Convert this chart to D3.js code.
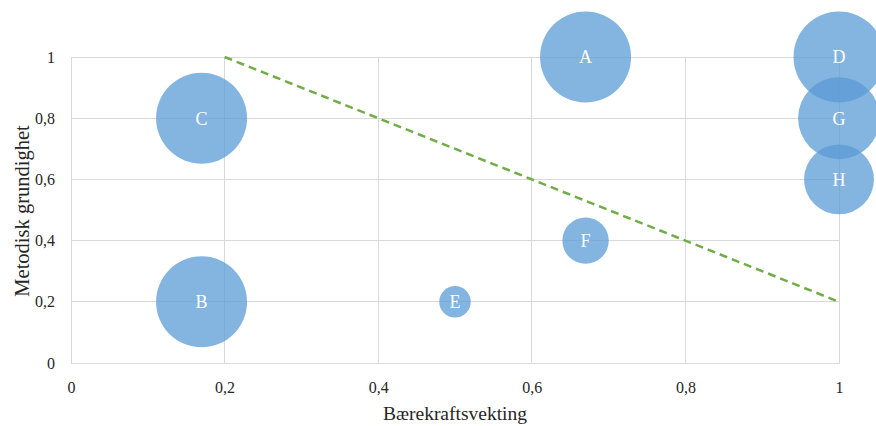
<!DOCTYPE html>
<html>
<head>
<meta charset="utf-8">
<script src="https://cdn.jsdelivr.net/npm/d3@7"></script>
<style>
  html, body { margin: 0; padding: 0; background: #fff; }
  svg { display: block; }
  text { font-family: "Liberation Serif", "DejaVu Serif", serif; }
</style>
</head>
<body>
<svg id="chart" width="876" height="426"></svg>
<script>
// Prosjekter: bærekraftsvekting (x), metodisk grundighet (y), boblestørrelse
const labels = ["A", "B", "C", "D", "E", "F", "G", "H"];
const xValues = [0.67, 0.17, 0.17, 1.0, 0.5, 0.67, 1.0, 1.0];
const yValues = [1.0, 0.2, 0.8, 1.0, 0.2, 0.4, 0.8, 0.6];
const sizes = [1.0, 1.0, 1.0, 1.0, 0.12, 0.26, 0.81, 0.59];

// Skillelinje (stiplet)
const lineX = [0.2, 1.0];
const lineY = [1.0, 0.2];

const xTicks = [0, 0.2, 0.4, 0.6, 0.8, 1];
const yTicks = [0, 0.2, 0.4, 0.6, 0.8, 1];
const fmt = v => String(v).replace(".", ",");

const svg = d3.select("#chart");
const x = d3.scaleLinear().domain([0, 1]).range([71, 839]);
const y = d3.scaleLinear().domain([0, 1]).range([363, 57]);
const r = d3.scaleSqrt().domain([0, 1]).range([0, 45.5]);

// Rutenett
svg.append("g").selectAll("line").data(xTicks).join("line")
  .attr("x1", d => x(d)).attr("x2", d => x(d))
  .attr("y1", y(0)).attr("y2", y(1))
  .attr("stroke", "#d9d9d9").attr("stroke-width", 1).attr("shape-rendering", "crispEdges");
svg.append("g").selectAll("line").data(yTicks).join("line")
  .attr("x1", x(0)).attr("x2", x(1))
  .attr("y1", d => y(d)).attr("y2", d => y(d))
  .attr("stroke", "#d9d9d9").attr("stroke-width", 1).attr("shape-rendering", "crispEdges");

// Akser
const xAxis = d3.axisBottom(x).tickValues(xTicks).tickFormat(fmt).tickSize(0).tickPadding(19);
const yAxis = d3.axisLeft(y).tickValues(yTicks).tickFormat(fmt).tickSize(0).tickPadding(16);
const gx = svg.append("g").attr("transform", `translate(0,${y(0)})`).call(xAxis);
const gy = svg.append("g").attr("transform", `translate(${x(0)},0)`).call(yAxis);
[gx, gy].forEach(g => {
  g.select(".domain").attr("stroke", "#d9d9d9").attr("shape-rendering", "crispEdges");
  g.selectAll("text").attr("font-size", 16).attr("fill", "#262626")
    .style("font-family", "'Liberation Serif', serif");
});

// Bobler
const data = labels.map((l, i) => ({ label: l, x: xValues[i], y: yValues[i], s: sizes[i] }));
svg.append("g").selectAll("circle").data(data).join("circle")
  .attr("cx", d => x(d.x)).attr("cy", d => y(d.y)).attr("r", d => r(d.s))
  .attr("fill", "#5b9bd5").attr("fill-opacity", 0.75);

// Stiplet linje
svg.append("line")
  .attr("x1", x(lineX[0])).attr("y1", y(lineY[0]))
  .attr("x2", x(lineX[1])).attr("y2", y(lineY[1]))
  .attr("stroke", "#70ad47").attr("stroke-width", 2.5)
  .attr("stroke-dasharray", "8,5");

// Bobleetiketter
svg.append("g").selectAll("text").data(data).join("text")
  .attr("x", d => x(d.x)).attr("y", d => y(d.y))
  .attr("dy", "0.35em").attr("text-anchor", "middle")
  .attr("font-size", 18).attr("fill", "#ffffff")
  .text(d => d.label);

// Aksetitler
svg.append("text").attr("x", x(0.5)).attr("y", 420)
  .attr("text-anchor", "middle").attr("font-size", 19.5).attr("fill", "#262626")
  .text("Bærekraftsvekting");
svg.append("text")
  .attr("transform", `translate(29,211) rotate(-90)`)
  .attr("text-anchor", "middle").attr("font-size", 20.5).attr("fill", "#262626")
  .text("Metodisk grundighet");
</script>
</body>
</html>
